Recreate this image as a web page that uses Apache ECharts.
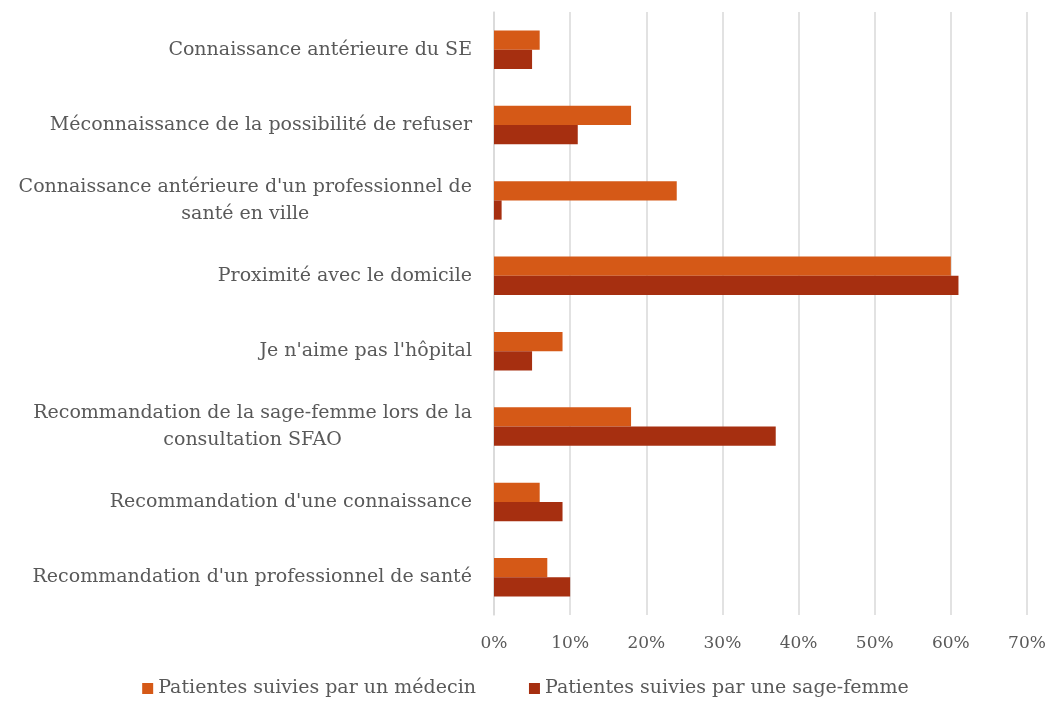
<!DOCTYPE html>
<html>
<head>
<meta charset="utf-8">
<script src="https://cdn.jsdelivr.net/npm/echarts@6/dist/echarts.min.js"></script>
<style>
  html, body { margin: 0; padding: 0; background: #fff; }
  #main { width: 1051px; height: 701px; }
</style>
</head>
<body>
<div id="main"></div>
<script>
// catégories (de haut en bas)
var categories = [
  'Connaissance antérieure du SE',
  'Méconnaissance de la possibilité de refuser',
  "Connaissance antérieure d'un professionnel de\nsanté en ville",
  'Proximité avec le domicile',
  "Je n'aime pas l'hôpital",
  'Recommandation de la sage-femme lors de la\nconsultation SFAO',
  "Recommandation d'une connaissance",
  "Recommandation d'un professionnel de santé"
];
var medecin = [6, 18, 24, 60, 9, 18, 6, 7];
var sageFemme = [5, 11, 1, 61, 5, 37, 9, 10];
var xTicks = [0, 10, 20, 30, 40, 50, 60, 70];

var font = 'DejaVu Serif';
var grey = '#595959';

var myChart = echarts.init(document.getElementById('main'));
myChart.setOption({
  animation: false,
  color: ['#D55917', '#A62F10'],
  grid: {
    left: 494,
    right: 24,
    top: 12,
    bottom: 86
  },
  legend: {
    top: 674,
    icon: 'rect',
    itemWidth: 11,
    itemHeight: 11,
    itemGap: 53,
    textStyle: { fontFamily: font, fontSize: 19, color: grey },
    data: ['Patientes suivies par un médecin', 'Patientes suivies par une sage-femme']
  },
  xAxis: {
    type: 'value',
    min: xTicks[0],
    max: xTicks[xTicks.length - 1],
    interval: 10,
    axisLine: { show: false },
    axisTick: { show: false },
    splitLine: { lineStyle: { color: '#d9d9d9', width: 1.5 } },
    axisLabel: {
      formatter: '{value}%',
      fontFamily: font,
      fontSize: 17,
      color: grey,
      margin: 20
    }
  },
  yAxis: {
    type: 'category',
    inverse: true,
    data: categories,
    axisLine: { show: true, lineStyle: { color: '#d9d9d9', width: 1.5 } },
    axisTick: { show: false },
    axisLabel: {
      margin: 22,
      fontFamily: font,
      fontSize: 19,
      color: grey,
      lineHeight: 27,
      formatter: function (v) {
        return v.split('\n').map(function (s) { return '{c|' + s + '}'; }).join('\n');
      },
      rich: {
        c: { align: 'center', fontFamily: font, fontSize: 19, color: grey, lineHeight: 27 }
      }
    }
  },
  series: [
    {
      name: 'Patientes suivies par un médecin',
      type: 'bar',
      barGap: '0%',
      barCategoryGap: '49%',
      data: medecin
    },
    {
      name: 'Patientes suivies par une sage-femme',
      type: 'bar',
      barGap: '0%',
      barCategoryGap: '49%',
      data: sageFemme
    }
  ]
});
</script>
</body>
</html>
